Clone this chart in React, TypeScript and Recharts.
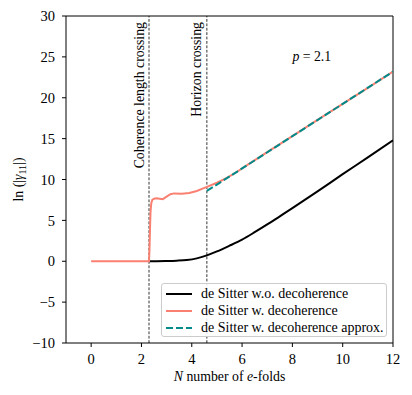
import { LineChart, Line, XAxis, YAxis, ReferenceLine, ReferenceDot, Legend } from "recharts";

const FONT = "'Liberation Serif', 'Times New Roman', serif";

// de Sitter without decoherence
const blackN = [2.3, 2.6, 3.0, 3.4, 3.8, 4.2, 4.6, 5.0, 5.5, 6.0, 6.5, 7.0, 7.5, 8.0, 9.0, 10.0, 11.0, 12.0];
const blackVals = [0, 0.01, 0.03, 0.07, 0.15, 0.35, 0.72, 1.2, 1.9, 2.65, 3.55, 4.5, 5.5, 6.5, 8.55, 10.65, 12.7, 14.8];

// de Sitter with decoherence
const redN = [0, 2.3, 2.32, 2.34, 2.36, 2.39, 2.43, 2.5, 2.6, 2.72, 2.85, 3.0, 3.15, 3.3, 3.6, 3.9, 4.2, 4.6, 5.0, 5.4, 5.8, 6.2, 7.0, 8.0, 9.0, 10.0, 11.0, 12.0];
const redVals = [0, 0, 1.5, 4.0, 6.0, 7.1, 7.5, 7.65, 7.7, 7.65, 7.6, 7.9, 8.2, 8.3, 8.25, 8.35, 8.6, 9.1, 9.6, 10.2, 10.95, 11.75, 13.35, 15.3, 17.3, 19.25, 21.2, 23.2];

// approximation
const approxN = [4.6, 6.0, 8.0, 10.0, 12.0];
const approxVals = [8.6, 11.35, 15.3, 19.25, 23.2];

const xTicks = [0, 2, 4, 6, 8, 10, 12];
const yTicks = [-10, -5, 0, 5, 10, 15, 20, 25, 30];

const crossings = [
  { n: 2.3, label: "Coherence length crossing" },
  { n: 4.6, label: "Horizon crossing" },
];

const legendItems = [
  { label: "de Sitter w.o. decoherence", color: "#000000", dash: "" },
  { label: "de Sitter w. decoherence", color: "#fa8072", dash: "" },
  { label: "de Sitter w. decoherence approx.", color: "#008b8b", dash: "7 3" },
];

const toPoints = (ns: number[], vs: number[]) => ns.map((n, i) => ({ n, v: vs[i] }));

const fmt = (v: number) => (v < 0 ? `\u2212${-v}` : `${v}`);

function LegendBox() {
  return (
    <div
      style={{
        width: 224,
        height: 52,
        border: "1px solid #cccccc",
        borderRadius: 3,
        background: "rgba(255,255,255,0.85)",
        fontFamily: FONT,
        fontSize: 14,
        position: "relative",
      }}
    >
      {legendItems.map((it, i) => (
        <div key={it.label} style={{ position: "absolute", left: 0, top: 1 + i * 17, height: 17, display: "flex", alignItems: "center", whiteSpace: "nowrap" }}>
          <svg width={34} height={10} style={{ marginLeft: 4 }}>
            <line x1={0} y1={5} x2={26} y2={5} stroke={it.color} strokeWidth={2} strokeDasharray={it.dash || undefined} />
          </svg>
          <span style={{ marginLeft: 1 }}>{it.label}</span>
        </div>
      ))}
    </div>
  );
}

export default function App() {
  return (
    <div style={{ position: "absolute", left: 0, top: 0, width: 412, height: 395, background: "#fff" }}>
      <LineChart width={412} height={395} margin={{ top: 16, right: 19, bottom: 0, left: 0 }}>
        <XAxis
          type="number"
          dataKey="n"
          domain={[-1, 12]}
          ticks={xTicks}
          allowDataOverflow
          height={52}
          tickSize={4}
          tickMargin={7}
          tickFormatter={fmt}
          axisLine={{ stroke: "#000", strokeWidth: 1 }}
          tickLine={{ stroke: "#000" }}
          tick={{ fill: "#000", fontSize: 14.5, fontFamily: FONT }}
          label={{
            content: (p: any) => {
              const vb = p.viewBox || {};
              return (
                <text x={vb.x + vb.width / 2} y={381} textAnchor="middle" fontFamily={FONT} fontSize={13.8} fill="#000">
                  <tspan fontStyle="italic">N</tspan> number of <tspan fontStyle="italic">e</tspan>-folds
                </text>
              );
            },
          }}
        />
        <YAxis
          type="number"
          domain={[-10, 30]}
          ticks={yTicks}
          allowDataOverflow
          width={66}
          tickSize={4}
          tickMargin={7}
          tickFormatter={fmt}
          axisLine={{ stroke: "#000", strokeWidth: 1 }}
          tickLine={{ stroke: "#000" }}
          tick={{ fill: "#000", fontSize: 14.5, fontFamily: FONT }}
          label={{
            content: (p: any) => {
              const vb = p.viewBox || {};
              const cy = vb.y + vb.height / 2;
              return (
                <text transform={`translate(23, ${cy}) rotate(-90)`} textAnchor="middle" fontFamily={FONT} fontSize={13.8} fill="#000">
                  ln (|<tspan fontStyle="italic">γ</tspan>
                  <tspan fontSize={10} dy={3}>11</tspan>
                  <tspan dy={-3}>|)</tspan>
                </text>
              );
            },
          }}
        />
        <ReferenceLine y={30} stroke="#000" strokeWidth={1} ifOverflow="visible" />
        <ReferenceLine x={12} stroke="#000" strokeWidth={1} ifOverflow="visible" />
        {crossings.map((c) => (
          <ReferenceLine
            key={c.label}
            x={c.n}
            stroke="#000"
            strokeWidth={0.8}
            strokeDasharray="2.8 1.6"
            label={{
              content: (p: any) => {
                const vb = p.viewBox || {};
                return (
                  <text transform={`translate(${vb.x - 5.5}, 22) rotate(-90)`} textAnchor="end" fontFamily={FONT} fontSize={13.8} fill="#000">
                    {c.label}
                  </text>
                );
              },
            }}
          />
        ))}
        <ReferenceDot
          x={8}
          y={25}
          r={0}
          fill="none"
          stroke="none"
          label={{
            content: (p: any) => {
              const vb = p.viewBox || {};
              return (
                <text x={vb.x} y={vb.y + 4} fontFamily={FONT} fontSize={13.8} fill="#000">
                  <tspan fontStyle="italic">p</tspan> = 2.1
                </text>
              );
            },
          }}
        />
        <Line data={toPoints(blackN, blackVals)} dataKey="v" type="monotone" stroke="#000000" strokeWidth={2} dot={false} isAnimationActive={false} />
        <Line data={toPoints(redN, redVals)} dataKey="v" type="linear" stroke="#fa8072" strokeWidth={2} dot={false} isAnimationActive={false} />
        <Line data={toPoints(approxN, approxVals)} dataKey="v" type="linear" stroke="#008b8b" strokeWidth={2} strokeDasharray="7 3" dot={false} isAnimationActive={false} />
        <Legend
          layout="vertical"
          align="center"
          verticalAlign="middle"
          content={() => <LegendBox />}
          wrapperStyle={{ left: 161, top: 283, width: 226, height: 54 }}
        />
      </LineChart>
    </div>
  );
}
